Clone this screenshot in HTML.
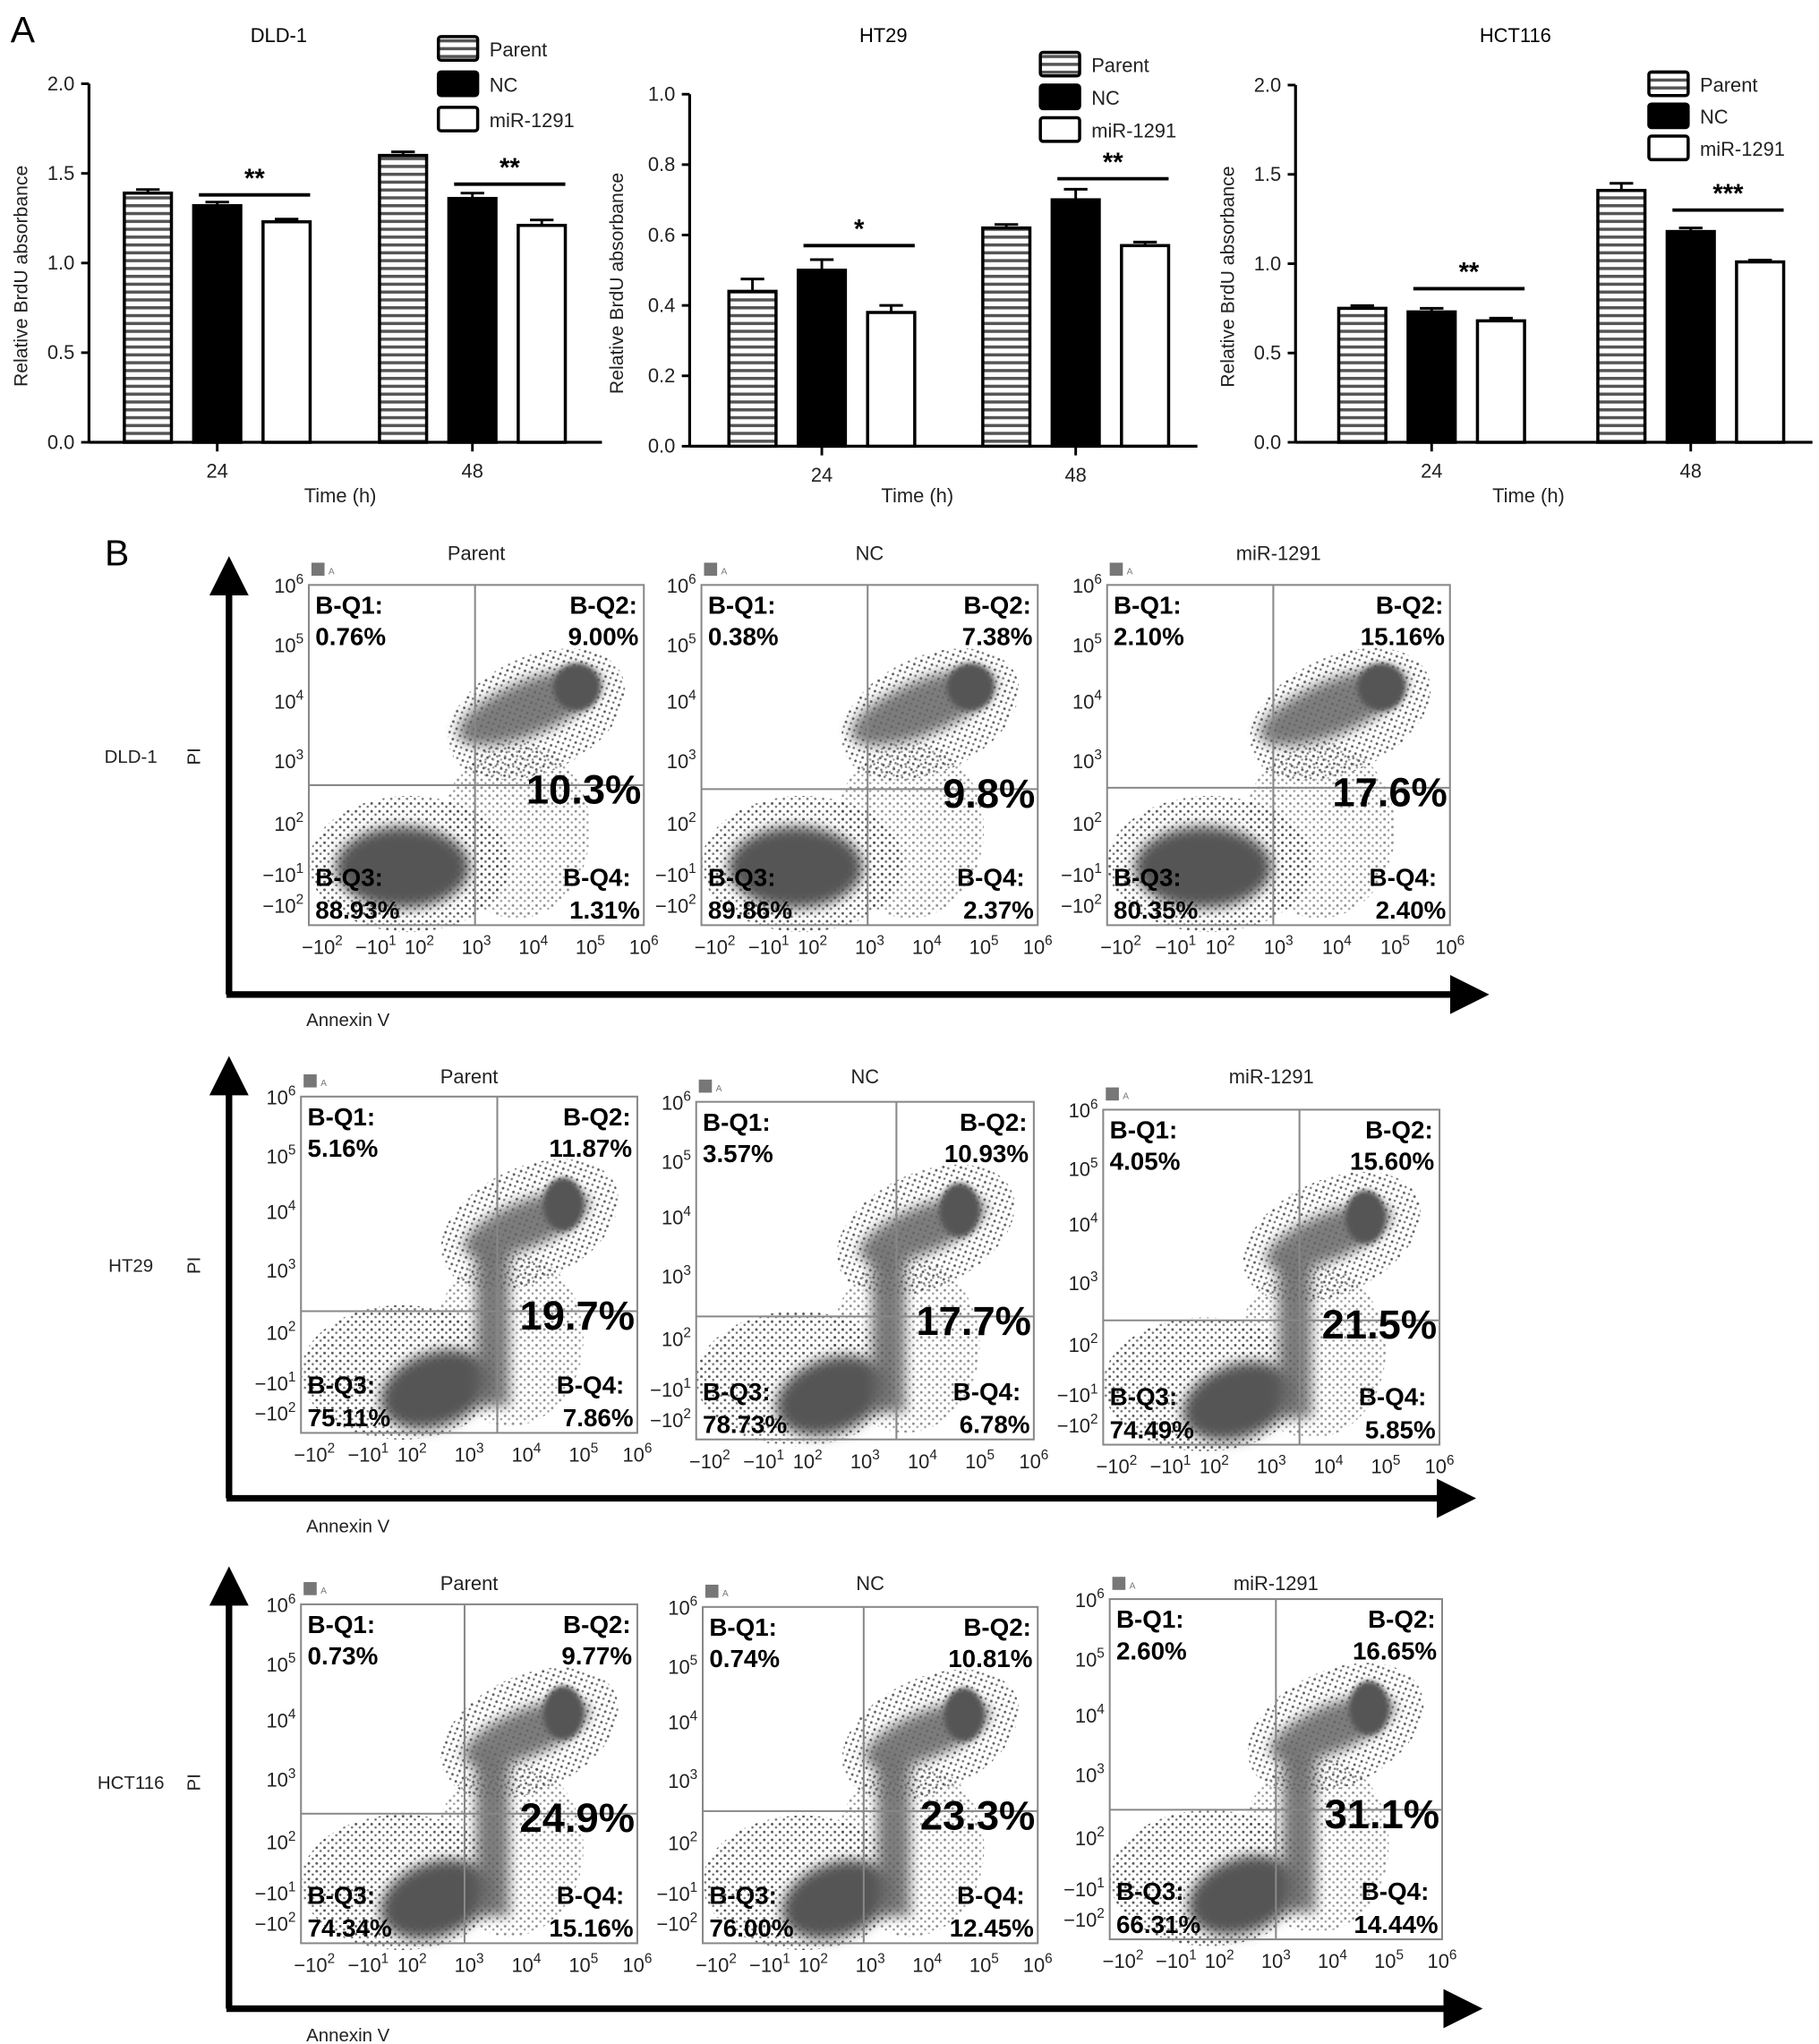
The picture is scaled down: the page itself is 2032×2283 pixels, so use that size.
<!DOCTYPE html>
<html><head><meta charset="utf-8">
<style>
html,body{margin:0;padding:0;background:#fff;}
svg{display:block;font-family:"Liberation Sans",Arial,sans-serif;}
</style></head>
<body>
<svg id="fig" width="2032" height="2283" viewBox="0 0 1390 1562" preserveAspectRatio="none">
<defs>
<pattern id="hatch" width="6" height="6" patternUnits="userSpaceOnUse"><rect width="6" height="6" fill="#fff"/><rect y="0" width="6" height="2.4" fill="#555"/></pattern>
<pattern id="speck" width="6" height="6" patternUnits="userSpaceOnUse"><circle cx="2" cy="2" r="1" fill="#444"/><circle cx="5" cy="4.5" r="0.9" fill="#666"/></pattern>
<filter id="blur" x="-30%" y="-30%" width="160%" height="160%"><feGaussianBlur stdDeviation="5"/></filter>
<filter id="blur2" x="-30%" y="-30%" width="160%" height="160%"><feGaussianBlur stdDeviation="2"/></filter>
<marker id="arr" markerWidth="6" markerHeight="6" refX="3" refY="3" orient="auto"><path d="M0,0 L6,3 L0,6 z" fill="#000"/></marker>
</defs>
<g id="panelA"></g>
<g id="panelB"></g>
</svg>
<script>
// ---------- Panel A data ----------
const categories = ["24", "48"];
const seriesNames = ["Parent", "NC", "miR-1291"];
const dld1Values = [[1.39, 1.32, 1.23], [1.60, 1.36, 1.21]];
const dld1Errors = [[0.02, 0.02, 0.015], [0.02, 0.03, 0.03]];
const ht29Values = [[0.44, 0.50, 0.38], [0.62, 0.70, 0.57]];
const ht29Errors = [[0.035, 0.03, 0.02], [0.01, 0.03, 0.01]];
const hct116Values = [[0.75, 0.73, 0.68], [1.41, 1.18, 1.01]];
const hct116Errors = [[0.015, 0.02, 0.015], [0.04, 0.02, 0.01]];
const dld1Ticks = [0.0, 0.5, 1.0, 1.5, 2.0];
const ht29Ticks = [0.0, 0.2, 0.4, 0.6, 0.8, 1.0];
const hct116Ticks = [0.0, 0.5, 1.0, 1.5, 2.0];
const dld1Sig = [[1.38, "**"], [1.44, "**"]];
const ht29Sig = [[0.57, "*"], [0.76, "**"]];
const hct116Sig = [[0.86, "**"], [1.30, "***"]];

// ---------- Panel B data ----------
const cellLines = ["DLD-1", "HT29", "HCT116"];
const conditions = ["Parent", "NC", "miR-1291"];
const q1Pct = [["0.76%","0.38%","2.10%"],["5.16%","3.57%","4.05%"],["0.73%","0.74%","2.60%"]];
const q2Pct = [["9.00%","7.38%","15.16%"],["11.87%","10.93%","15.60%"],["9.77%","10.81%","16.65%"]];
const q3Pct = [["88.93%","89.86%","80.35%"],["75.11%","78.73%","74.49%"],["74.34%","76.00%","66.31%"]];
const q4Pct = [["1.31%","2.37%","2.40%"],["7.86%","6.78%","5.85%"],["15.16%","12.45%","14.44%"]];
const apoptosisPct = [["10.3%","9.8%","17.6%"],["19.7%","17.7%","21.5%"],["24.9%","23.3%","31.1%"]];
const xTickLabels = [["−10","2"],["−10","1"],["10","2"],["10","3"],["10","4"],["10","5"],["10","6"]];
const yTickLabels = [["10","6"],["10","5"],["10","4"],["10","3"],["10","2"],["−10","1"],["−10","2"]];

const NS = "http://www.w3.org/2000/svg";
function mk(tag, attrs, parent){const e=document.createElementNS(NS,tag);for(const k in attrs)e.setAttribute(k,attrs[k]);if(parent)parent.appendChild(e);return e;}
function txt(parent,x,y,s,size,opts){opts=opts||{};const t=mk("text",{x:x,y:y,"font-size":size,"text-anchor":opts.anchor||"start",fill:opts.fill||"#000","font-weight":opts.bold?"bold":"normal"},parent);if(opts.rot)t.setAttribute("transform","rotate(-90 "+x+" "+y+")");t.textContent=s;return t;}

const A = document.getElementById("panelA");
const lblA = txt(A,8,32,"A",28);



function barChart(cfg){
  const g = mk("g",{},A);
  
  
  const yScale = v => cfg.y0 - (v/cfg.ymax)*(cfg.y0-cfg.y1);
  const t = txt(g,cfg.titleX,32,cfg.name,15,{anchor:"middle"});
  
  
  mk("line",{x1:cfg.ax,y1:cfg.y1,x2:cfg.ax,y2:cfg.y0,stroke:"#000","stroke-width":2.2},g);
  mk("line",{x1:cfg.ax,y1:cfg.y0,x2:cfg.xend,y2:cfg.y0,stroke:"#000","stroke-width":2.2},g);
  cfg.ticks.forEach(v=>{
    const y=yScale(v);
    mk("line",{x1:cfg.ax-6,y1:y,x2:cfg.ax,y2:y,stroke:"#000","stroke-width":2},g);
    const tl=txt(g,cfg.ax-11,y+5,v.toFixed(1),15,{anchor:"end",fill:"#222"});
    
    
  });
  const yl=txt(g,cfg.ylx,cfg.y0-(cfg.y0-cfg.y1)/2+10,"Relative BrdU absorbance",14.5,{anchor:"middle",rot:true,fill:"#222"});
  
  
  const xl=txt(g,cfg.timeX,384,"Time (h)",15,{anchor:"middle",fill:"#222"});
  
  
  const fills=["url(#hatch)","#000","#fff"];
  categories.forEach((c,ci)=>{
    const cx=cfg.catX[ci];
    mk("line",{x1:cx,y1:cfg.y0,x2:cx,y2:cfg.y0+7,stroke:"#000","stroke-width":2},g);
    const cl=txt(g,cx,cfg.y0+27,c,15,{anchor:"middle",fill:"#222"});
    
    
    const bw=36, gap=17, x0=cx-bw*1.5-gap+ (cfg.shift||0);
    cfg.values[ci].forEach((v,si)=>{
      const bx=x0+si*(bw+gap);
      const yv=yScale(v), ye=yScale(v+cfg.errors[ci][si]);
      mk("line",{x1:bx+bw/2,y1:yv,x2:bx+bw/2,y2:ye,stroke:"#000","stroke-width":2},g);
      mk("line",{x1:bx+bw/2-9,y1:ye,x2:bx+bw/2+9,y2:ye,stroke:"#000","stroke-width":2},g);
      const r=mk("rect",{x:bx,y:yv,width:bw,height:cfg.y0-yv,fill:fills[si],stroke:"#000","stroke-width":2.4},g);
      
      
    });
    const sy=yScale(cfg.sig[ci][0]);
    const sx1=x0+(bw+gap)+4, sx2=x0+2*(bw+gap)+bw;
    mk("line",{x1:sx1,y1:sy,x2:sx2,y2:sy,stroke:"#000","stroke-width":2.6},g);
    const st=txt(g,(sx1+sx2)/2,sy-6,cfg.sig[ci][1],20,{anchor:"middle",bold:true});
    
    
  });
  const lfills=["url(#hatch)","#000","#fff"];
  seriesNames.forEach((s,si)=>{
    const ly=cfg.legY+si*cfg.legStep;
    const lr=mk("rect",{x:cfg.legX,y:ly,width:30,height:18,fill:lfills[si],stroke:"#000","stroke-width":2.4,rx:2},g);
    
    
    const lt=txt(g,cfg.legX+39,ly+15,s,15,{fill:"#222"});
    
    
  });
}
barChart({name:"DLD-1",titleX:213,ax:68,y0:338,y1:64,ymax:2.0,xend:460,catX:[166,361],ticks:dld1Ticks,values:dld1Values,errors:dld1Errors,sig:dld1Sig,ylx:21,timeX:260,legX:335,legY:28,legStep:27});
barChart({name:"HT29",titleX:675,ax:527,y0:341,y1:72,ymax:1.0,xend:915,catX:[628,822],ticks:ht29Ticks,values:ht29Values,errors:ht29Errors,sig:ht29Sig,ylx:476,timeX:701,legX:795,legY:40,legStep:25});
barChart({name:"HCT116",titleX:1158,ax:990,y0:338,y1:65,ymax:2.0,xend:1385,catX:[1094,1292],ticks:hct116Ticks,values:hct116Values,errors:hct116Errors,sig:hct116Sig,ylx:943,timeX:1168,legX:1260,legY:55,legStep:24.5});

// ---------- Panel B ----------
const B=document.getElementById("panelB");
const lblB=txt(B,80,432,"B",28);


const rowGeo=[
 {vTop:428,hY:760,hEnd:1135,lineY:578,annY:784,boxes:[[236,447,492,707,363,600],[536,447,793,707,663,603],[846,447,1108,707,973,602]],titleY:428},
 {vTop:810,hY:1145,hEnd:1125,lineY:967,annY:1171,boxes:[[230,838,487,1095,380,1002],[532,842,790,1100,685,1006],[843,848,1100,1104,993,1009]],titleY:828},
 {vTop:1200,hY:1535,hEnd:1130,lineY:1362,annY:1560,boxes:[[230,1226,487,1485,355,1386],[537,1228,793,1485,660,1384],[848,1222,1102,1482,975,1383]],titleY:1215}
];
function sup(parent,x,y,base,exp,size,anchor){
  const t=mk("text",{x:x,y:y,"font-size":size,"text-anchor":anchor,fill:"#222"},parent);
  const a=mk("tspan",{},t);a.textContent=base;
  const b=mk("tspan",{dy:-size*0.45,"font-size":size*0.7},t);b.textContent=exp;
  return t;
}
cellLines.forEach((cl,ri)=>{
  const R=rowGeo[ri];
  const g=mk("g",{},B);
  
  
  mk("line",{x1:175,y1:R.hY,x2:175,y2:R.vTop+12,stroke:"#000","stroke-width":5,"marker-end":"url(#arr)"},g);
  mk("line",{x1:173,y1:R.hY,x2:R.hEnd-12,y2:R.hY,stroke:"#000","stroke-width":5,"marker-end":"url(#arr)"},g);
  const pl=txt(g,153,R.lineY,"PI",14,{anchor:"middle",rot:true,fill:"#222"});
  
  
  const cll=txt(g,100,R.lineY+5,cl,14,{anchor:"middle",fill:"#222"});
  
  
  const an=txt(g,234,R.annY,"Annexin V",14,{fill:"#222"});
  
  
  conditions.forEach((cd,ci)=>{
    const [x1,y1,x2,y2,vx,hy]=R.boxes[ci];
    const w=x2-x1,h=y2-y1;
    const p=mk("g",{},g);
    
    
    const tt=txt(p,(x1+x2)/2,R.titleY,cd,15,{anchor:"middle",fill:"#222"});
    
    
    mk("rect",{x:x1+2,y:y1-17,width:10,height:10,fill:"#777"},p);
    txt(p,x1+15,y1-8,"A",7,{fill:"#777"});
    const cloud=mk("g",{},p);
    const X=f=>x1+f*w, Y=f=>y1+f*h;
    mk("ellipse",{cx:X(0.3),cy:Y(0.82),rx:w*0.3,ry:h*0.2,fill:"url(#speck)",opacity:0.9},cloud);
    mk("ellipse",{cx:X(0.68),cy:Y(0.38),rx:w*0.28,ry:h*0.17,fill:"url(#speck)",opacity:0.85,transform:"rotate(-25 "+X(0.68)+" "+Y(0.38)+")"},cloud);
    mk("ellipse",{cx:X(0.62),cy:Y(0.72),rx:w*0.22,ry:h*0.26,fill:"url(#speck)",opacity:0.6},cloud);
    if(ri===0){
      mk("ellipse",{cx:X(0.28),cy:Y(0.83),rx:w*0.2,ry:h*0.12,fill:"#555",filter:"url(#blur)"},cloud);
      mk("ellipse",{cx:X(0.66),cy:Y(0.36),rx:w*0.23,ry:h*0.08,fill:"#666",opacity:0.85,filter:"url(#blur)",transform:"rotate(-22 "+X(0.66)+" "+Y(0.36)+")"},cloud);
      mk("ellipse",{cx:X(0.8),cy:Y(0.3),rx:w*0.07,ry:h*0.07,fill:"#555",filter:"url(#blur2)"},cloud);
    } else {
      mk("ellipse",{cx:X(0.4),cy:Y(0.87),rx:w*0.17,ry:h*0.11,fill:"#555",filter:"url(#blur)",transform:"rotate(-20 "+X(0.4)+" "+Y(0.87)+")"},cloud);
      mk("rect",{x:X(0.52),y:Y(0.45),width:w*0.1,height:h*0.47,fill:"#666",opacity:0.85,filter:"url(#blur)"},cloud);
      mk("ellipse",{cx:X(0.67),cy:Y(0.38),rx:w*0.2,ry:h*0.07,fill:"#666",opacity:0.85,filter:"url(#blur)",transform:"rotate(-22 "+X(0.67)+" "+Y(0.38)+")"},cloud);
      mk("ellipse",{cx:X(0.78),cy:Y(0.32),rx:w*0.06,ry:h*0.08,fill:"#555",filter:"url(#blur2)"},cloud);
    }
    mk("rect",{x:x1,y:y1,width:w,height:h,fill:"none",stroke:"#888","stroke-width":1.4},p);
    mk("line",{x1:vx,y1:y1,x2:vx,y2:y2,stroke:"#888","stroke-width":1.4},p);
    mk("line",{x1:x1,y1:hy,x2:x2,y2:hy,stroke:"#888","stroke-width":1.4},p);
    const yf=[0,0.175,0.34,0.515,0.7,0.85,0.94];
    yTickLabels.forEach((l,k)=>{
      const t=sup(p,x1-4,y1+yf[k]*h+6,l[0],l[1],15,"end");
      
      
    });
    const xf=[0.04,0.2,0.33,0.5,0.67,0.84,1.0];
    xTickLabels.forEach((l,k)=>{
      const t=sup(p,x1+xf[k]*w,y2+22,l[0],l[1],15,"middle");
      
      
    });
    const fs=19;
    const a1=txt(p,x1+5,y1+22,"B-Q1:",fs,{bold:true});  
    const a2=txt(p,x1+5,y1+46,q1Pct[ri][ci],fs,{bold:true});  
    const b1=txt(p,x2-5,y1+22,"B-Q2:",fs,{bold:true,anchor:"end"});  
    const b2=txt(p,x2-4,y1+46,q2Pct[ri][ci],fs,{bold:true,anchor:"end"});  
    const c1=txt(p,x1+5,y2-30,"B-Q3:",fs,{bold:true});  
    const c2=txt(p,x1+5,y2-5,q3Pct[ri][ci],fs,{bold:true});  
    const d1=txt(p,x2-10,y2-30,"B-Q4:",fs,{bold:true,anchor:"end"});  
    const d2=txt(p,x2-3,y2-5,q4Pct[ri][ci],fs,{bold:true,anchor:"end"});  
    const big=txt(p,x2-2,hy+14,apoptosisPct[ri][ci],31,{bold:true,anchor:"end"});
    
    
  });
});
</script>
</body></html>
